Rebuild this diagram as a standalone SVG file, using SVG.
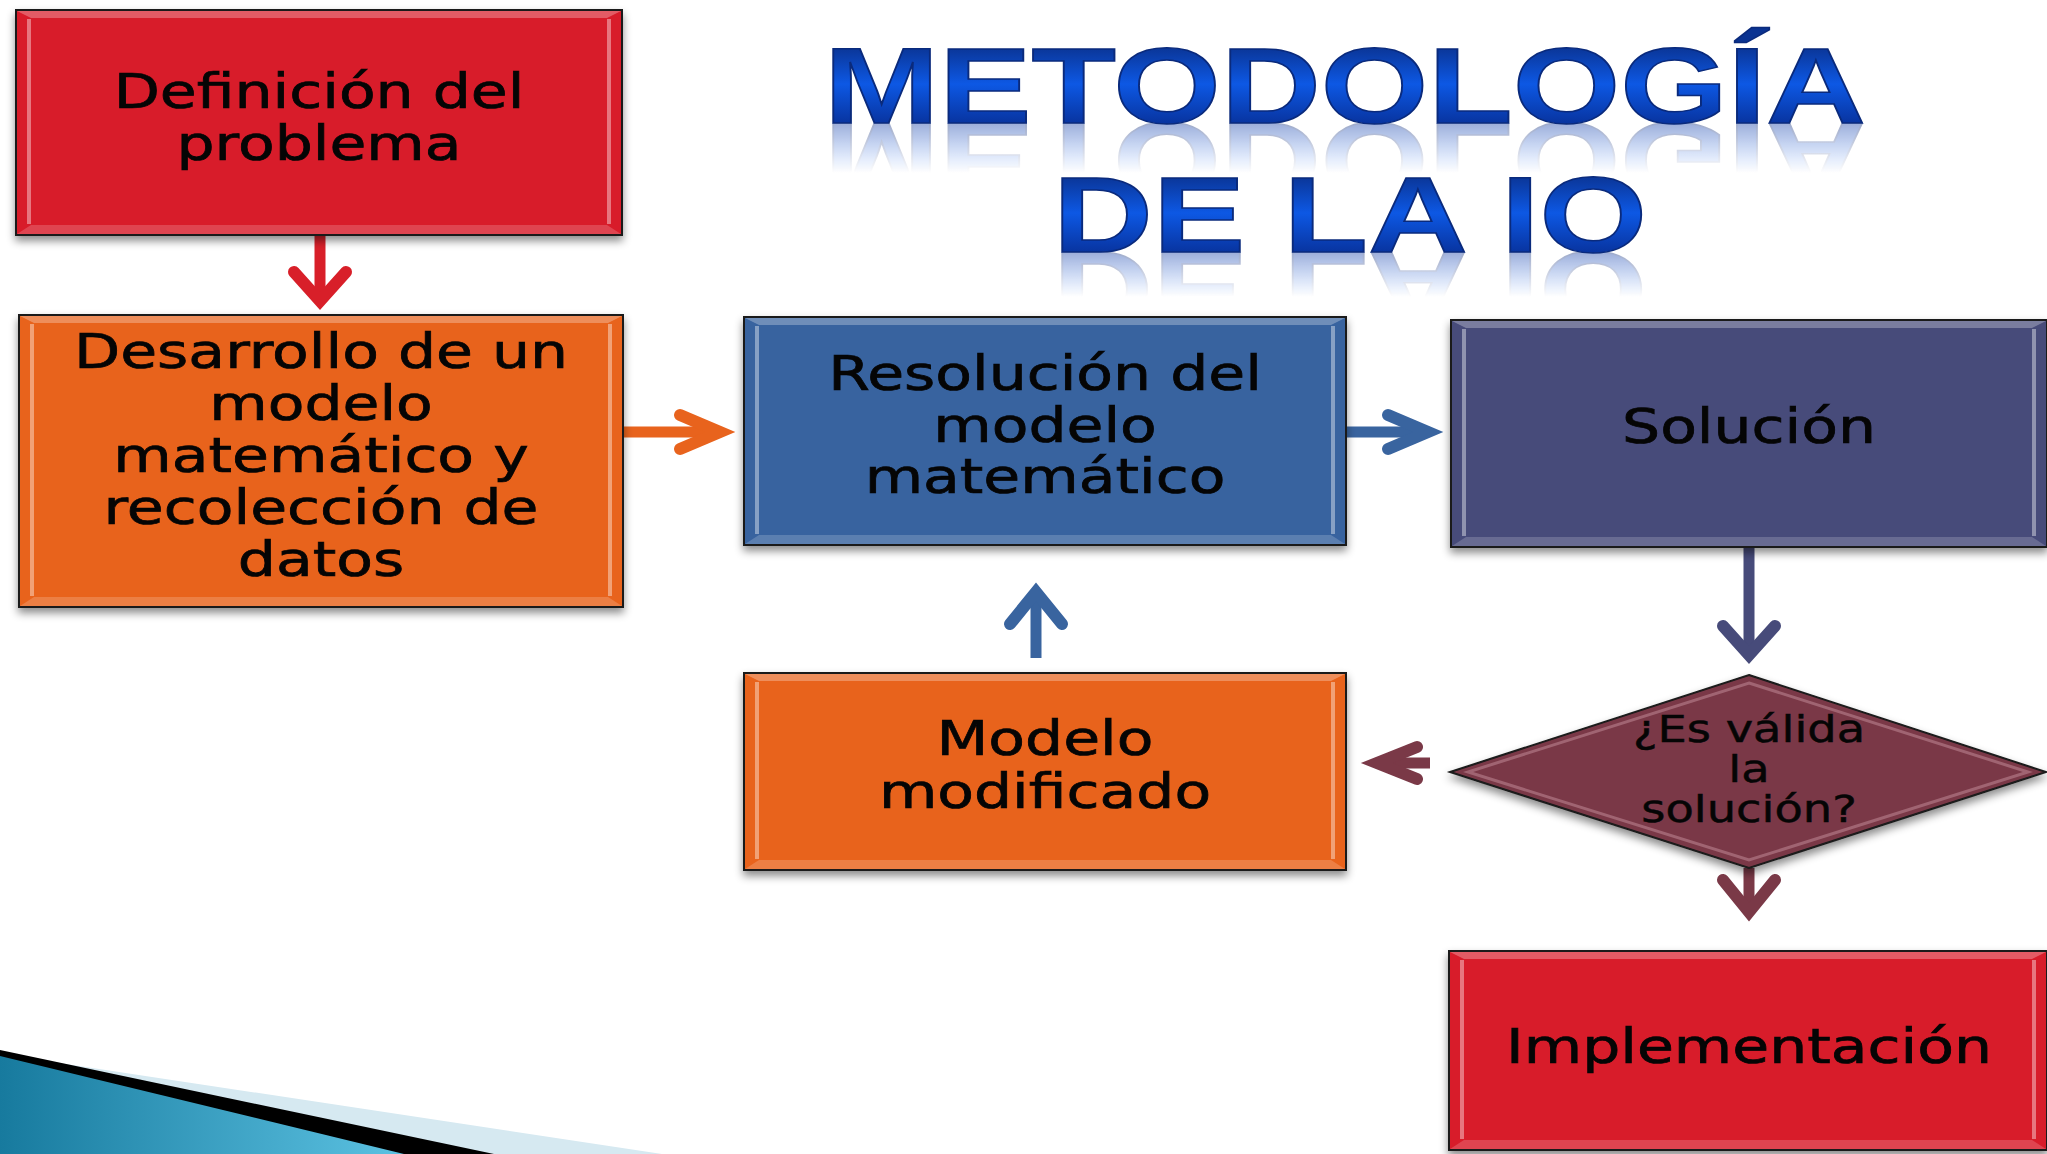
<svg xmlns="http://www.w3.org/2000/svg" width="2047" height="1154" viewBox="0 0 2047 1154">
  <style>
    .lbl { font-family: "DejaVu Sans", Verdana, sans-serif; font-size: 48px; fill: #050505; stroke: #050505; stroke-width: 0.7; text-anchor: middle; }
    .lbls { font-family: "DejaVu Sans", Verdana, sans-serif; font-size: 38px; fill: #050505; stroke: #050505; stroke-width: 0.5; text-anchor: middle; }
    .title { font-family: "Liberation Sans", Arial, sans-serif; font-weight: bold; font-size: 108px; text-anchor: middle; stroke: #0a2a7c; stroke-width: 1.5; }
    .box { stroke: #1a1a1a; stroke-width: 2; }
    .red { fill: #d81f29; }
    .orange { fill: #e8631d; }
    .blue { fill: #39649f; }
    .slate { fill: #474b7a; }
    .maroon { fill: #7a3947; }
    .bevtop { fill: #ffffff; opacity: 0.28; }
    .bevbot { fill: #ffffff; opacity: 0.18; }
    .bevside { fill: none; stroke: #ffffff; stroke-width: 4; opacity: 0.4; }
    .arr { fill: none; stroke-width: 12; stroke-linecap: round; stroke-linejoin: miter; stroke-miterlimit: 6; }
    .shaft { fill: none; stroke-width: 11; stroke-linecap: butt; }
  </style>
  <defs>
    <filter id="sh" x="-5%" y="-5%" width="110%" height="120%">
      <feDropShadow dx="0" dy="5" stdDeviation="4" flood-color="#000" flood-opacity="0.45"/>
    </filter>
    <linearGradient id="t1" gradientUnits="userSpaceOnUse" x1="0" y1="45" x2="0" y2="123">
      <stop offset="0" stop-color="#0a3392"/>
      <stop offset="0.5" stop-color="#0d58e4"/>
      <stop offset="1" stop-color="#0834a0"/>
    </linearGradient>
    <linearGradient id="t2" gradientUnits="userSpaceOnUse" x1="0" y1="174" x2="0" y2="252">
      <stop offset="0" stop-color="#0a3392"/>
      <stop offset="0.5" stop-color="#0d58e4"/>
      <stop offset="1" stop-color="#0834a0"/>
    </linearGradient>
    <linearGradient id="fade" x1="0" y1="0" x2="0" y2="1">
      <stop offset="0" stop-color="#ffffff" stop-opacity="1"/>
      <stop offset="1" stop-color="#000000" stop-opacity="1"/>
    </linearGradient>
    <mask id="m1" maskUnits="userSpaceOnUse" x="700" y="123" width="1300" height="50">
      <rect x="700" y="123" width="1300" height="50" fill="url(#fade)"/>
    </mask>
    <mask id="m2" maskUnits="userSpaceOnUse" x="700" y="252" width="1300" height="45">
      <rect x="700" y="252" width="1300" height="45" fill="url(#fade)"/>
    </mask>
    <linearGradient id="teal" x1="0" y1="0" x2="1" y2="0">
      <stop offset="0" stop-color="#177a9e"/>
      <stop offset="1" stop-color="#5cc2e2"/>
    </linearGradient>
  </defs>

  <rect width="2047" height="1154" fill="#ffffff"/>

  <!-- bottom-left decoration -->
  <g id="decoration">
    <polygon points="0,1054 662,1154 0,1154" fill="#d6e9f1"/>
    <polygon points="0,1050 494,1154 0,1154" fill="#000000"/>
    <polygon points="0,1056 404,1154 0,1154" fill="url(#teal)"/>
  </g>

  <!-- title -->
  <g id="title">
    <g mask="url(#m1)" opacity="0.4">
      <use href="#tl1" transform="translate(0 246) scale(1 -1)"/>
    </g>
    <g mask="url(#m2)" opacity="0.4">
      <use href="#tl2" transform="translate(0 504) scale(1 -1)"/>
    </g>
    <g id="tl1"><g transform="translate(1345 0) scale(1.28 1)"><text class="title" x="0" y="123" fill="url(#t1)">METODOLOGÍA</text></g></g>
    <g id="tl2"><g transform="translate(1350 0) scale(1.28 1)"><text class="title" x="0" y="252" fill="url(#t2)">DE LA IO</text></g></g>
  </g>

  <!-- connectors -->
  <g id="connectors">
    <line class="shaft" x1="320" y1="235" x2="320" y2="298" stroke="#d81f29"/>
    <polyline class="arr" points="294,272 320,301 346,272" stroke="#d81f29"/>

    <line class="shaft" x1="623" y1="432" x2="716" y2="432" stroke="#e8631d"/>
    <polyline class="arr" points="680,415 720,432 680,449" stroke="#e8631d"/>

    <line class="shaft" x1="1346" y1="432" x2="1424" y2="432" stroke="#39649f"/>
    <polyline class="arr" points="1388,415 1428,432 1388,449" stroke="#39649f"/>

    <line class="shaft" x1="1749" y1="547" x2="1749" y2="650" stroke="#474b7a"/>
    <polyline class="arr" points="1723,626 1749,655 1775,626" stroke="#474b7a"/>

    <line class="shaft" x1="1036" y1="658" x2="1036" y2="597" stroke="#39649f"/>
    <polyline class="arr" points="1010,624 1036,592 1062,624" stroke="#39649f"/>

    <line class="shaft" x1="1430" y1="763" x2="1382" y2="763" stroke="#7a3947"/>
    <polyline class="arr" points="1417,747 1377,763 1417,779" stroke="#7a3947"/>

    <line class="shaft" x1="1749" y1="868" x2="1749" y2="907" stroke="#7a3947"/>
    <polyline class="arr" points="1723,880 1749,912 1775,880" stroke="#7a3947"/>
  </g>

  <!-- nodes -->
  <g id="n1">
    <rect class="box red" x="16" y="10" width="606" height="225" filter="url(#sh)"/>
    <polygon class="bevtop" points="17,11 621,11 607,18 31,18"/>
    <polygon class="bevbot" points="17,234 621,234 607,225 31,225"/>
    <path class="bevside" d="M29,19 V224 M609,19 V224"/>
    <rect x="16" y="10" width="606" height="225" fill="none" stroke="#1a1a1a" stroke-width="2"/>
    <g transform="translate(319 0) scale(1.25 1)">
      <text class="lbl" x="0" y="108">Definición del</text>
      <text class="lbl" x="0" y="160">problema</text>
    </g>
  </g>

  <g id="n2">
    <rect class="box orange" x="19" y="315" width="604" height="292" filter="url(#sh)"/>
    <polygon class="bevtop" points="20,316 622,316 608,323 34,323"/>
    <polygon class="bevbot" points="20,606 622,606 608,597 34,597"/>
    <path class="bevside" d="M32,324 V596 M610,324 V596"/>
    <rect x="19" y="315" width="604" height="292" fill="none" stroke="#1a1a1a" stroke-width="2"/>
    <g transform="translate(321 0) scale(1.25 1)">
      <text class="lbl" x="0" y="368">Desarrollo de un</text>
      <text class="lbl" x="0" y="420">modelo</text>
      <text class="lbl" x="0" y="472">matemático y</text>
      <text class="lbl" x="0" y="524">recolección de</text>
      <text class="lbl" x="0" y="576">datos</text>
    </g>
  </g>

  <g id="n3">
    <rect class="box blue" x="744" y="317" width="602" height="228" filter="url(#sh)"/>
    <polygon class="bevtop" points="745,318 1345,318 1331,325 759,325"/>
    <polygon class="bevbot" points="745,544 1345,544 1331,535 759,535"/>
    <path class="bevside" d="M757,326 V534 M1333,326 V534"/>
    <rect x="744" y="317" width="602" height="228" fill="none" stroke="#1a1a1a" stroke-width="2"/>
    <g transform="translate(1045 0) scale(1.25 1)">
      <text class="lbl" x="0" y="390">Resolución del</text>
      <text class="lbl" x="0" y="442">modelo</text>
      <text class="lbl" x="0" y="493">matemático</text>
    </g>
  </g>

  <g id="n4">
    <rect class="box slate" x="1451" y="320" width="596" height="227" filter="url(#sh)"/>
    <polygon class="bevtop" points="1452,321 2046,321 2032,328 1466,328"/>
    <polygon class="bevbot" points="1452,546 2046,546 2032,537 1466,537"/>
    <path class="bevside" d="M1464,329 V536 M2034,329 V536"/>
    <rect x="1451" y="320" width="596" height="227" fill="none" stroke="#1a1a1a" stroke-width="2"/>
    <g transform="translate(1749 0) scale(1.25 1)">
      <text class="lbl" x="0" y="443">Solución</text>
    </g>
  </g>

  <g id="n5">
    <polygon points="1749,675 2046,772 1749,868 1450,772" class="maroon" stroke="#1a1a1a" stroke-width="2" filter="url(#sh)"/>
    <polygon points="1749,683 2028,772 1749,860 1468,772" fill="none" stroke="#e8b8c2" stroke-width="3" opacity="0.35"/>
    <g transform="translate(1749 0) scale(1.22 1)">
      <text class="lbls" x="0" y="742">¿Es válida</text>
      <text class="lbls" x="0" y="782">la</text>
      <text class="lbls" x="0" y="822">solución?</text>
    </g>
  </g>

  <g id="n6">
    <rect class="box orange" x="744" y="673" width="602" height="197" filter="url(#sh)"/>
    <polygon class="bevtop" points="745,674 1345,674 1331,681 759,681"/>
    <polygon class="bevbot" points="745,869 1345,869 1331,860 759,860"/>
    <path class="bevside" d="M757,682 V859 M1333,682 V859"/>
    <rect x="744" y="673" width="602" height="197" fill="none" stroke="#1a1a1a" stroke-width="2"/>
    <g transform="translate(1045 0) scale(1.25 1)">
      <text class="lbl" x="0" y="755">Modelo</text>
      <text class="lbl" x="0" y="808">modificado</text>
    </g>
  </g>

  <g id="n7">
    <rect class="box red" x="1449" y="951" width="598" height="199" filter="url(#sh)"/>
    <polygon class="bevtop" points="1450,952 2046,952 2032,959 1464,959"/>
    <polygon class="bevbot" points="1450,1149 2046,1149 2032,1140 1464,1140"/>
    <path class="bevside" d="M1462,960 V1139 M2034,960 V1139"/>
    <rect x="1449" y="951" width="598" height="199" fill="none" stroke="#1a1a1a" stroke-width="2"/>
    <g transform="translate(1749 0) scale(1.25 1)">
      <text class="lbl" x="0" y="1063">Implementación</text>
    </g>
  </g>
</svg>
